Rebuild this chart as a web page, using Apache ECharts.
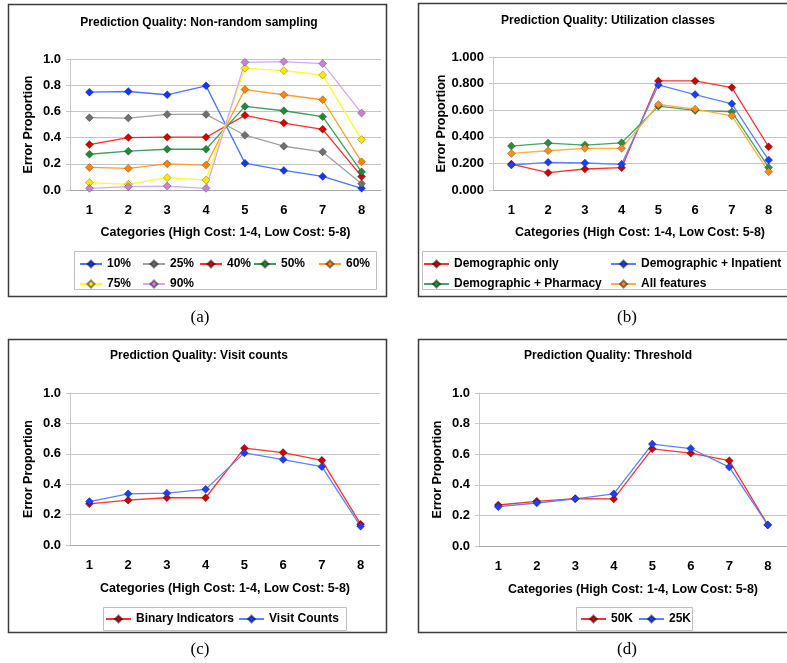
<!DOCTYPE html>
<html>
<head>
<meta charset="utf-8">
<title>Prediction Quality</title>
<script src="https://cdn.jsdelivr.net/npm/echarts@6/dist/echarts.min.js"></script>
<style>
  html, body { margin: 0; padding: 0; background: #fff; }
  #main { width: 787px; height: 663px; }
</style>
</head>
<body>
<div id="main"></div>
<script>
var categories = ['1', '2', '3', '4', '5', '6', '7', '8'];

// (a) non-random sampling
var samp10 = [0.747, 0.752, 0.727, 0.795, 0.205, 0.149, 0.104, 0.013];
var samp25 = [0.552, 0.549, 0.577, 0.577, 0.418, 0.334, 0.291, 0.048];
var samp40 = [0.347, 0.400, 0.403, 0.403, 0.570, 0.511, 0.463, 0.104];
var samp50 = [0.273, 0.296, 0.311, 0.311, 0.638, 0.605, 0.560, 0.139];
var samp60 = [0.172, 0.165, 0.200, 0.190, 0.767, 0.727, 0.689, 0.215];
var samp75 = [0.056, 0.043, 0.094, 0.076, 0.929, 0.911, 0.878, 0.385];
var samp90 = [0.013, 0.025, 0.030, 0.013, 0.975, 0.980, 0.965, 0.587];

// (b) utilization classes
var demoOnly = [0.195, 0.130, 0.158, 0.168, 0.820, 0.820, 0.770, 0.325];
var demoInpat = [0.188, 0.208, 0.203, 0.193, 0.790, 0.718, 0.648, 0.225];
var demoPharm = [0.330, 0.353, 0.338, 0.355, 0.630, 0.598, 0.588, 0.170];
var allFeat = [0.275, 0.295, 0.313, 0.313, 0.643, 0.608, 0.558, 0.138];

// (c) visit counts
var binaryInd = [0.271, 0.295, 0.311, 0.311, 0.637, 0.608, 0.557, 0.137];
var visitCnt = [0.286, 0.337, 0.341, 0.366, 0.606, 0.562, 0.515, 0.123];

// (d) threshold
var thr50k = [0.268, 0.292, 0.310, 0.308, 0.635, 0.607, 0.558, 0.138];
var thr25k = [0.257, 0.281, 0.308, 0.341, 0.666, 0.637, 0.516, 0.138];

var FONT = '"Liberation Sans", Arial, sans-serif';
var grids = [
    { left: 70, top: 59, width: 311, height: 131 },
    { left: 493, top: 57, width: 296, height: 133 },
    { left: 70, top: 393, width: 310, height: 152 },
    { left: 479, top: 393, width: 311, height: 153 }
];

function xAx(i, gap) {
    return {
        type: 'category', gridIndex: i, data: categories, boundaryGap: true,
        name: 'Categories (High Cost: 1-4, Low Cost: 5-8)', nameLocation: 'middle', nameGap: gap,
        nameTextStyle: { fontFamily: FONT, fontWeight: 'bold', fontSize: 12.5, color: '#000' },
        axisLine: { lineStyle: { color: '#aaaaaa' } },
        axisTick: { length: 4, lineStyle: { color: '#aaaaaa' } },
        axisLabel: { margin: 14, fontFamily: FONT, fontWeight: 'bold', fontSize: 13, color: '#000' }
    };
}
function yAx(i, digits) {
    return {
        type: 'value', gridIndex: i, min: 0, max: 1, interval: 0.2,
        name: 'Error Proportion', nameLocation: 'middle', nameRotate: 90, nameGap: 35,
        nameTextStyle: { fontFamily: FONT, fontWeight: 'bold', fontSize: 12.5, color: '#000' },
        axisLine: { show: true, lineStyle: { color: '#c8c8c8' } },
        axisTick: { show: true, length: 4, lineStyle: { color: '#c8c8c8' } },
        splitLine: { lineStyle: { color: '#c4c4c4' } },
        axisLabel: {
            margin: 9, fontFamily: FONT, fontWeight: 'bold', fontSize: 13, color: '#000',
            formatter: function (v) { return v.toFixed(digits); }
        }
    };
}
function ser(name, data, i, line, mark) {
    return {
        name: name, type: 'line', data: data, xAxisIndex: i, yAxisIndex: i,
        symbol: 'diamond', symbolSize: 8,
        lineStyle: { color: line, width: 1.3 },
        itemStyle: { color: mark, borderColor: 'rgba(0,0,0,0.45)', borderWidth: 0.6 }
    };
}
function leg(names, left, top, orient, gap, w) {
    return {
        data: names, left: left, top: top, orient: orient, itemGap: gap, padding: 0,
        itemWidth: w || 25, itemHeight: 9, selectedMode: false,
        textStyle: { fontFamily: FONT, fontWeight: 'bold', fontSize: 12, color: '#000' }
    };
}
function ttl(text, x, y) {
    return {
        text: text, left: x, top: y, textAlign: 'center', padding: 0,
        textStyle: { fontFamily: FONT, fontWeight: 'bold', fontSize: 12, color: '#000' }
    };
}
function box(x, y, w, h, color, lw) {
    return { type: 'rect', shape: { x: x, y: y, width: w, height: h },
        style: { fill: null, stroke: color, lineWidth: lw }, silent: true };
}
function cap(text, x, y) {
    return { type: 'text', x: x, y: y,
        style: { text: text, fill: '#000', font: '17px "Liberation Serif", "Times New Roman", serif',
            align: 'center', verticalAlign: 'middle' } };
}

var chart = echarts.init(document.getElementById('main'));
chart.setOption({
    animation: false,
    backgroundColor: '#fff',
    title: [
        ttl('Prediction Quality: Non-random sampling', 199, 17),
        ttl('Prediction Quality: Utilization classes', 608, 15),
        ttl('Prediction Quality: Visit counts', 199, 350),
        ttl('Prediction Quality: Threshold', 608, 350)
    ],
    grid: grids,
    xAxis: [xAx(0, 36), xAx(1, 36), xAx(2, 37), xAx(3, 37)],
    yAxis: [yAx(0, 1), yAx(1, 3), yAx(2, 1), yAx(3, 1)],
    legend: [
        leg(['10%', '75%'], 79, 258, 'vertical', 8, 22),
        leg(['25%', '90%'], 142, 258, 'vertical', 8, 22),
        leg(['40%'], 199, 258, 'vertical', 8, 22),
        leg(['50%'], 253, 258, 'vertical', 8, 22),
        leg(['60%'], 318, 258, 'vertical', 8, 22),
        leg(['Demographic only', 'Demographic + Pharmacy'], 423, 258, 'vertical', 8),
        leg(['Demographic + Inpatient', 'All features'], 610, 258, 'vertical', 8),
        leg(['Binary Indicators', 'Visit Counts'], 105, 613, 'horizontal', 4),
        leg(['50K', '25K'], 580, 613, 'horizontal', 5)
    ],
    series: [
        ser('10%', samp10, 0, '#4a74ff', '#1236ff'),
        ser('25%', samp25, 0, '#a0a0a0', '#707070'),
        ser('40%', samp40, 0, '#ff2a2a', '#d40000'),
        ser('50%', samp50, 0, '#3f9c60', '#1f8a3a'),
        ser('60%', samp60, 0, '#ff9c30', '#ff8400'),
        ser('75%', samp75, 0, '#ffff20', '#ffe600'),
        ser('90%', samp90, 0, '#d4a8ff', '#c882d6'),
        ser('Demographic only', demoOnly, 1, '#ff3030', '#cc0000'),
        ser('Demographic + Inpatient', demoInpat, 1, '#5a82ff', '#1a3fff'),
        ser('Demographic + Pharmacy', demoPharm, 1, '#4aa06a', '#2a9040'),
        ser('All features', allFeat, 1, '#ffb040', '#ff8c1a'),
        ser('Binary Indicators', binaryInd, 2, '#ff3030', '#cc0000'),
        ser('Visit Counts', visitCnt, 2, '#5a82ff', '#1a3fff'),
        ser('50K', thr50k, 3, '#ff3030', '#cc0000'),
        ser('25K', thr25k, 3, '#5a82ff', '#1a3fff')
    ],
    graphic: [
        box(8.5, 4.5, 378, 292, '#3a3a3a', 1.5),
        box(418.5, 3.5, 380, 293, '#3a3a3a', 1.5),
        box(8.5, 339.5, 378, 293, '#3a3a3a', 1.5),
        box(418.5, 339.5, 380, 293, '#3a3a3a', 1.5),
        box(74.5, 251.5, 302, 38, '#c0c0c0', 1),
        box(422.5, 251.5, 380, 38, '#c0c0c0', 1),
        box(103.5, 607.5, 243, 23, '#c0c0c0', 1),
        box(576.5, 607.5, 116, 23, '#c0c0c0', 1),
        cap('(a)', 200, 318),
        cap('(b)', 627, 318),
        cap('(c)', 200, 650),
        cap('(d)', 627, 650)
    ]
});
</script>
</body>
</html>
